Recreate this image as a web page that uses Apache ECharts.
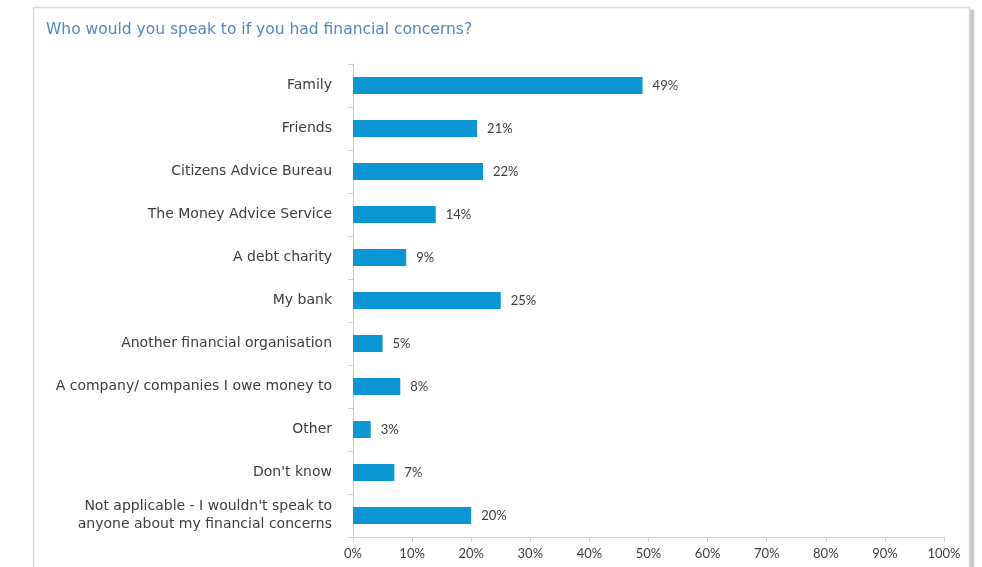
<!DOCTYPE html>
<html>
<head>
<meta charset="utf-8">
<script src="https://cdn.jsdelivr.net/npm/echarts@6/dist/echarts.min.js"></script>
<style>
  html, body { margin: 0; padding: 0; background: #ffffff; }
  #chart { width: 982px; height: 567px; }
</style>
</head>
<body>
<div id="chart"></div>
<script>
// Survey responses: who people would speak to about financial concerns
const categories = [
  'Family',
  'Friends',
  'Citizens Advice Bureau',
  'The Money Advice Service',
  'A debt charity',
  'My bank',
  'Another financial organisation',
  'A company/ companies I owe money to',
  'Other',
  "Don't know",
  "Not applicable - I wouldn't speak to\nanyone about my financial concerns"
];
const shares = [49, 21, 22, 14, 9, 25, 5, 8, 3, 7, 20];
const axisTicks = [0, 10, 20, 30, 40, 50, 60, 70, 80, 90, 100];

const axisColor = '#c3d2e3';
const textColor = '#3d3d3d';
const wideFont = '"DejaVu Sans", Verdana, sans-serif';
const numFont = 'Lato, "DejaVu Sans", sans-serif';

const chart = echarts.init(document.getElementById('chart'));
chart.setOption({
  animation: false,
  backgroundColor: '#ffffff',
  graphic: [
    {
      // soft drop shadow along the right edge of the panel
      type: 'rect',
      shape: { x: 969, y: 10, width: 5, height: 600 },
      style: { fill: '#c4c8cd', shadowColor: 'rgba(0,0,0,0.15)', shadowBlur: 2 },
      z: -11
    },
    {
      type: 'rect',
      shape: { x: 33.5, y: 7.5, width: 936, height: 600 },
      style: { fill: '#ffffff', stroke: '#cddbea', lineWidth: 1.5 },
      z: -10
    }
  ],
  title: {
    text: 'Who would you speak to if you had financial concerns?',
    left: 41,
    top: 17,
    textStyle: {
      color: '#5287c4',
      fontSize: 15.5,
      fontWeight: 'normal',
      fontFamily: wideFont
    }
  },
  grid: { left: 353, right: 38, top: 64, bottom: 30, containLabel: false },
  xAxis: {
    type: 'value',
    min: axisTicks[0],
    max: axisTicks[axisTicks.length - 1],
    interval: axisTicks[1] - axisTicks[0],
    axisLine: { show: true, lineStyle: { color: axisColor, width: 1 } },
    axisTick: { show: true, length: 5, lineStyle: { color: axisColor } },
    splitLine: { show: false },
    axisLabel: {
      formatter: v => v + '%',
      color: textColor,
      fontSize: 13,
      fontFamily: numFont,
      margin: 10
    }
  },
  yAxis: {
    type: 'category',
    inverse: true,
    data: categories,
    axisLine: { show: true, lineStyle: { color: axisColor, width: 1 } },
    axisTick: { show: true, length: 5, lineStyle: { color: axisColor } },
    axisLabel: {
      color: textColor,
      fontSize: 14,
      fontFamily: wideFont,
      margin: 21,
      align: 'right',
      lineHeight: 18
    }
  },
  series: [{
    type: 'bar',
    data: shares,
    barWidth: 17,
    itemStyle: { color: '#0b96d3' },
    label: {
      show: true,
      position: 'right',
      distance: 10,
      formatter: p => p.value + '%',
      color: textColor,
      fontSize: 13,
      fontFamily: numFont
    }
  }]
});
</script>
</body>
</html>
